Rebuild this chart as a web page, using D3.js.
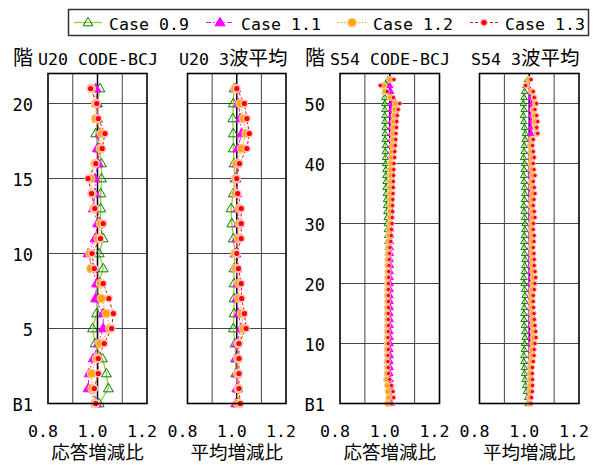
<!DOCTYPE html>
<html>
<head>
<meta charset="utf-8">
<script src="https://cdn.jsdelivr.net/npm/d3@7"></script>
<style>
  html, body { margin: 0; padding: 0; background: #fff; }
  svg { display: block; }
</style>
</head>
<body>
<svg id="chart" width="598" height="465"></svg>
<script>
// Story response ratios, listed from B1 (index 0) upward.
const caseNames = ["Case 0.9", "Case 1.1", "Case 1.2", "Case 1.3"];

// U20, CODE-BCJ wave
const u20Code09 = [1.007, 1.044, 1.036, 1.020, 0.990, 0.980, 0.996, 1.003, 1.003, 1.023, 1.007, 1.023, 1.010, 1.013, 1.013, 1.016, 1.016, 1.007, 0.993, 1.000, 1.000, 1.010];
const u20Code11 = [0.996, 0.962, 0.966, 0.983, 1.003, 1.023, 1.023, 0.992, 0.996, 0.980, 0.962, 0.990, 1.000, 0.983, 0.990, 0.990, 1.003, 0.999, 1.010, 0.999, 0.997, 0.993];
const u20Code12 = [0.990, 0.978, 0.976, 0.996, 1.010, 1.050, 1.036, 1.016, 1.012, 0.973, 0.970, 1.003, 1.012, 0.986, 0.978, 0.972, 0.990, 1.012, 1.016, 0.993, 0.993, 0.975];
const u20Code13 = [0.993, 0.987, 1.003, 1.003, 1.027, 1.057, 1.064, 1.046, 1.023, 0.987, 0.978, 1.012, 1.023, 0.989, 0.976, 0.962, 0.993, 1.019, 1.030, 1.003, 0.997, 0.972];

// U20, three-wave average
const u20Avg09 = [1.004, 1.004, 0.996, 0.996, 0.993, 0.986, 0.989, 0.989, 0.989, 0.989, 0.993, 0.986, 0.980, 0.977, 0.986, 0.993, 0.989, 0.986, 0.986, 0.984, 0.986, 0.989];
const u20Avg11 = [0.996, 1.000, 1.000, 0.996, 1.000, 1.018, 1.007, 1.000, 1.004, 1.000, 0.996, 1.000, 1.007, 1.004, 1.000, 0.997, 1.000, 1.004, 1.020, 1.014, 1.007, 0.996];
const u20Avg12 = [1.004, 1.007, 1.004, 1.004, 1.007, 1.027, 1.020, 1.009, 1.009, 0.997, 0.993, 1.007, 1.011, 1.009, 0.996, 0.996, 1.000, 1.020, 1.038, 1.027, 1.014, 0.993];
const u20Avg13 = [1.014, 1.009, 1.009, 1.009, 1.009, 1.038, 1.031, 1.020, 1.018, 1.007, 1.000, 1.018, 1.018, 1.018, 1.004, 1.000, 1.011, 1.041, 1.051, 1.041, 1.031, 1.000];

// S54, CODE-BCJ wave
const s54Code09 = [0.997, 0.998, 0.997, 0.998, 0.997, 0.998, 0.997, 0.998, 0.997, 0.996, 0.997, 0.998, 0.997, 0.996, 0.997, 0.998, 0.997, 0.996, 0.997, 0.996, 0.997, 0.996, 0.995, 0.996, 0.995, 0.994,
                   0.993, 0.992, 0.991, 0.990, 0.990, 0.989, 0.988, 0.987, 0.987, 0.986, 0.985, 0.985, 0.984, 0.984, 0.983, 0.983, 0.982, 0.982, 0.981, 0.981, 0.981, 0.980, 0.980, 0.980,
                   0.980, 0.980, 0.981, 0.987, 0.993];
const s54Code11 = [1.005, 1.004, 1.003, 1.002, 1.002, 1.001, 1.002, 1.001, 1.002, 1.001, 1.002, 1.002, 1.001, 1.002, 1.002, 1.001, 1.002, 1.002, 1.001, 1.002, 1.002, 1.002, 1.002, 1.003, 1.002, 1.003,
                   1.003, 1.003, 1.003, 1.003, 1.004, 1.003, 1.004, 1.004, 1.004, 1.004, 1.004, 1.004, 1.005, 1.004, 1.005, 1.005, 1.005, 1.005, 1.005, 1.006, 1.005, 1.006, 1.006, 1.006,
                   1.007, 1.005, 1.004, 1.000, 1.004];
const s54Code12 = [0.991, 0.996, 0.993, 0.991, 0.987, 0.989, 0.990, 0.989, 0.990, 0.989, 0.990, 0.990, 0.989, 0.990, 0.991, 0.990, 0.990, 0.991, 0.990, 0.991, 0.991, 0.991, 0.992, 0.992, 0.992, 0.993,
                   0.994, 0.995, 0.996, 0.998, 1.000, 1.001, 1.001, 1.002, 1.002, 1.002, 1.002, 1.003, 1.003, 1.003, 1.004, 1.007, 1.009, 1.011, 1.012, 1.014, 1.015, 1.016, 1.018, 1.020,
                   1.023, 1.002, 0.981, 0.976, 0.999];
const s54Code13 = [1.007, 1.016, 1.013, 1.007, 1.000, 0.995, 0.994, 0.993, 0.993, 0.994, 0.994, 0.993, 0.994, 0.995, 0.994, 0.994, 0.995, 0.995, 0.994, 0.995, 0.995, 0.996, 0.996, 0.997, 0.998, 0.999,
                   1.001, 1.004, 1.006, 1.007, 1.009, 1.010, 1.011, 1.011, 1.012, 1.013, 1.014, 1.014, 1.015, 1.016, 1.017, 1.019, 1.020, 1.022, 1.024, 1.025, 1.027, 1.028, 1.030, 1.034,
                   1.040, 1.015, 0.990, 0.962, 1.017];

// S54, three-wave average
const s54Avg09 = [0.996, 0.993, 0.988, 0.985, 0.983, 0.981, 0.980, 0.978, 0.978, 0.980, 0.981, 0.983, 0.982, 0.980, 0.979, 0.978, 0.980, 0.982, 0.983, 0.981, 0.979, 0.978, 0.980, 0.982, 0.983, 0.981,
                  0.979, 0.978, 0.980, 0.982, 0.983, 0.981, 0.979, 0.978, 0.980, 0.982, 0.981, 0.979, 0.977, 0.979, 0.981, 0.977, 0.979, 0.980, 0.983, 0.984, 0.981, 0.978, 0.976, 0.979,
                  0.976, 0.979, 0.981, 0.986, 0.993];
const s54Avg11 = [1.000, 1.001, 1.002, 1.003, 1.003, 1.002, 1.003, 1.004, 1.005, 1.005, 1.006, 1.007, 1.006, 1.005, 1.005, 1.004, 1.004, 1.003, 1.003, 1.004, 1.005, 1.006, 1.005, 1.004, 1.004, 1.004,
                  1.003, 1.004, 1.005, 1.004, 1.004, 1.005, 1.005, 1.004, 1.004, 1.005, 1.005, 1.004, 1.005, 1.004, 1.004, 1.005, 1.004, 1.003, 1.004, 1.008, 1.007, 1.008, 1.007, 1.006,
                  1.009, 1.006, 1.004, 0.993, 0.999];
const s54Avg12 = [1.000, 1.002, 1.004, 1.005, 1.005, 1.004, 1.005, 1.008, 1.010, 1.011, 1.014, 1.017, 1.016, 1.014, 1.012, 1.011, 1.009, 1.008, 1.008, 1.011, 1.014, 1.016, 1.014, 1.012, 1.012, 1.011,
                  1.008, 1.010, 1.011, 1.008, 1.009, 1.013, 1.011, 1.008, 1.010, 1.013, 1.011, 1.008, 1.013, 1.010, 1.007, 1.010, 1.007, 1.005, 1.010, 1.030, 1.026, 1.023, 1.020, 1.016,
                  1.025, 1.020, 1.009, 0.989, 0.999];
const s54Avg13 = [1.007, 1.009, 1.012, 1.013, 1.013, 1.012, 1.013, 1.016, 1.019, 1.020, 1.023, 1.027, 1.026, 1.023, 1.020, 1.019, 1.017, 1.016, 1.016, 1.020, 1.023, 1.026, 1.023, 1.020, 1.020, 1.019,
                  1.016, 1.019, 1.020, 1.016, 1.017, 1.023, 1.020, 1.016, 1.019, 1.023, 1.020, 1.016, 1.023, 1.019, 1.016, 1.020, 1.016, 1.013, 1.016, 1.034, 1.030, 1.034, 1.030, 1.023,
                  1.030, 1.020, 1.016, 0.985, 1.007];

const xTickValues = [0.8, 1.0, 1.2];
const xTickLabels = ["0.8", "1.0", "1.2"];
const u20FloorTicks = [0, 5, 10, 15, 20];
const s54FloorTicks = [0, 10, 20, 30, 40, 50];
const floorTickLabel = f => (f === 0 ? "B1" : String(f));

const panels = [
  { title: "U20 CODE-BCJ", story: true,  xTitle: "応答増減比", x0: 48,    x1: 147,   maxFloor: 22, ticks: u20FloorTicks, big: true,
    series: [u20Code09, u20Code11, u20Code12, u20Code13] },
  { title: "U20 3波平均",   story: false, xTitle: "平均増減比", x0: 187.5, x1: 286,   maxFloor: 22, ticks: u20FloorTicks, big: true,
    series: [u20Avg09, u20Avg11, u20Avg12, u20Avg13] },
  { title: "S54 CODE-BCJ", story: true,  xTitle: "応答増減比", x0: 340,   x1: 439.5, maxFloor: 55, ticks: s54FloorTicks, big: false,
    series: [s54Code09, s54Code11, s54Code12, s54Code13] },
  { title: "S54 3波平均",   story: false, xTitle: "平均増減比", x0: 479.5, x1: 579,   maxFloor: 55, ticks: s54FloorTicks, big: false,
    series: [s54Avg09, s54Avg11, s54Avg12, s54Avg13] }
];

const plotTop = 73.5, plotBottom = 403.5;

const styles = [
  { line: "#9acd32", width: 1.3, dash: null,        marker: "triOpen" },
  { line: "#ff00ff", width: 1,   dash: "5,2,1.5,2", marker: "triFill" },
  { line: "#ffa500", width: 1,   dash: "1.5,1.5",   marker: "orange" },
  { line: "#ff0000", width: 1,   dash: "3,2",       marker: "red" }
];

const svg = d3.select("#chart");
const latinFont = "'DejaVu Sans Mono', 'Liberation Mono', monospace";
const cjkFont = "'Noto Sans CJK JP', 'Noto Sans CJK SC', sans-serif";
const isCJK = ch => /[\u3000-\u9fff\uff00-\uffef]/.test(ch);

// Text with Latin runs in a monospace face and kanji runs in a CJK face
function mixedText(parent, x, y, str, anchor, latinSize, cjkSize) {
  const t = parent.append("text").attr("x", x).attr("y", y)
    .attr("text-anchor", anchor || "start").attr("fill", "#000");
  const runs = [];
  for (const ch of str) {
    const c = isCJK(ch);
    if (runs.length && runs[runs.length - 1].c === c) runs[runs.length - 1].s += ch;
    else runs.push({ c, s: ch });
  }
  runs.forEach(r => {
    t.append("tspan")
      .attr("font-family", r.c ? cjkFont : latinFont)
      .attr("font-size", r.c ? cjkSize : latinSize)
      .attr("xml:space", "preserve")
      .style("white-space", "pre")
      .text(r.s);
  });
  return t;
}

function drawMarker(g, kind, cx, cy, big) {
  if (kind === "triOpen" || kind === "triFill") {
    const sym = d3.symbol().type(d3.symbolTriangle).size(big ? 42 : 17);
    g.append("path").attr("d", sym())
      .attr("transform", `translate(${cx},${cy + (big ? 0.5 : 0.3)})`)
      .attr("fill", kind === "triFill" ? "#ff00ff" : "none")
      .attr("stroke", kind === "triFill" ? "#ff00ff" : "#008000")
      .attr("stroke-width", 1);
  } else if (kind === "orange") {
    g.append("circle").attr("cx", cx).attr("cy", cy).attr("r", big ? 4.2 : 2.8)
      .attr("fill", "#ffa500").attr("stroke", "#ffc890").attr("stroke-width", 1.2);
  } else {
    g.append("circle").attr("cx", cx).attr("cy", cy).attr("r", big ? 3.3 : 2.2)
      .attr("fill", "#ff0000").attr("stroke", "#ffc0c0").attr("stroke-width", big ? 1.4 : 1);
  }
}

panels.forEach(p => {
  const x = d3.scaleLinear().domain([0.8, 1.2]).range([p.x0, p.x1]);
  const y = d3.scaleLinear().domain([0, p.maxFloor]).range([plotBottom, plotTop]);
  const g = svg.append("g");

  // grid
  [0.9, 1.1].forEach(v => {
    g.append("line").attr("x1", x(v)).attr("x2", x(v)).attr("y1", plotTop).attr("y2", plotBottom)
      .attr("stroke", "#444").attr("stroke-width", 1);
  });
  p.ticks.filter(f => f > 0).forEach(f => {
    g.append("line").attr("x1", p.x0).attr("x2", p.x1).attr("y1", y(f)).attr("y2", y(f))
      .attr("stroke", "#444").attr("stroke-width", 1);
  });
  g.append("line").attr("x1", x(1.0)).attr("x2", x(1.0)).attr("y1", plotTop).attr("y2", plotBottom)
    .attr("stroke", "#000").attr("stroke-width", 1.5);

  // series lines then markers
  p.series.forEach((vals, si) => {
    const st = styles[si];
    const line = d3.line().x(d => x(d)).y((d, i) => y(i));
    g.append("path").attr("d", line(vals)).attr("fill", "none")
      .attr("stroke", st.line).attr("stroke-width", st.width)
      .attr("stroke-dasharray", st.dash);
  });
  p.series.forEach((vals, si) => {
    const st = styles[si];
    vals.forEach((v, i) => drawMarker(g, st.marker, x(v), y(i), p.big));
  });

  // frame
  g.append("rect").attr("x", p.x0).attr("y", plotTop).attr("width", p.x1 - p.x0).attr("height", plotBottom - plotTop)
    .attr("fill", "none").attr("stroke", "#000").attr("stroke-width", 1.6);

  // floor labels on the story panels
  if (p.story) {
    p.ticks.forEach(f => {
      mixedText(g, p.x0 - 15, y(f) + 7, floorTickLabel(f), "end", 17, 20);
    });
    mixedText(g, p.x0 - 35, 65, "階", "start", 17, 20);
  }

  // panel title
  const titleX = p.story ? p.x0 - 10 : p.x0 - 8.5;
  mixedText(g, titleX, 65, p.title, "start", 16.6, 19.5);

  // x tick labels
  xTickValues.forEach((v, i) => {
    mixedText(g, x(v) - 5, 437, xTickLabels[i], "middle", 16.6, 20);
  });

  // x axis title
  mixedText(g, (p.x0 + p.x1) / 2, 459, p.xTitle, "middle", 17, 18.5);
});

// legend
const legend = svg.append("g");
legend.append("rect").attr("x", 68.5).attr("y", 9.5).attr("width", 520).attr("height", 26)
  .attr("fill", "#fff").attr("stroke", "#333").attr("stroke-width", 1.5);
caseNames.forEach((name, i) => {
  const st = styles[i];
  const lx = 74 + 132 * i;
  legend.append("line").attr("x1", lx).attr("x2", lx + 28).attr("y1", 22.5).attr("y2", 22.5)
    .attr("stroke", st.line).attr("stroke-width", st.width).attr("stroke-dasharray", st.dash);
  drawMarker(legend, st.marker, lx + 14, 22.5, true);
  mixedText(legend, lx + 35, 30, name, "start", 16.6, 20);
});
</script>
</body>
</html>
